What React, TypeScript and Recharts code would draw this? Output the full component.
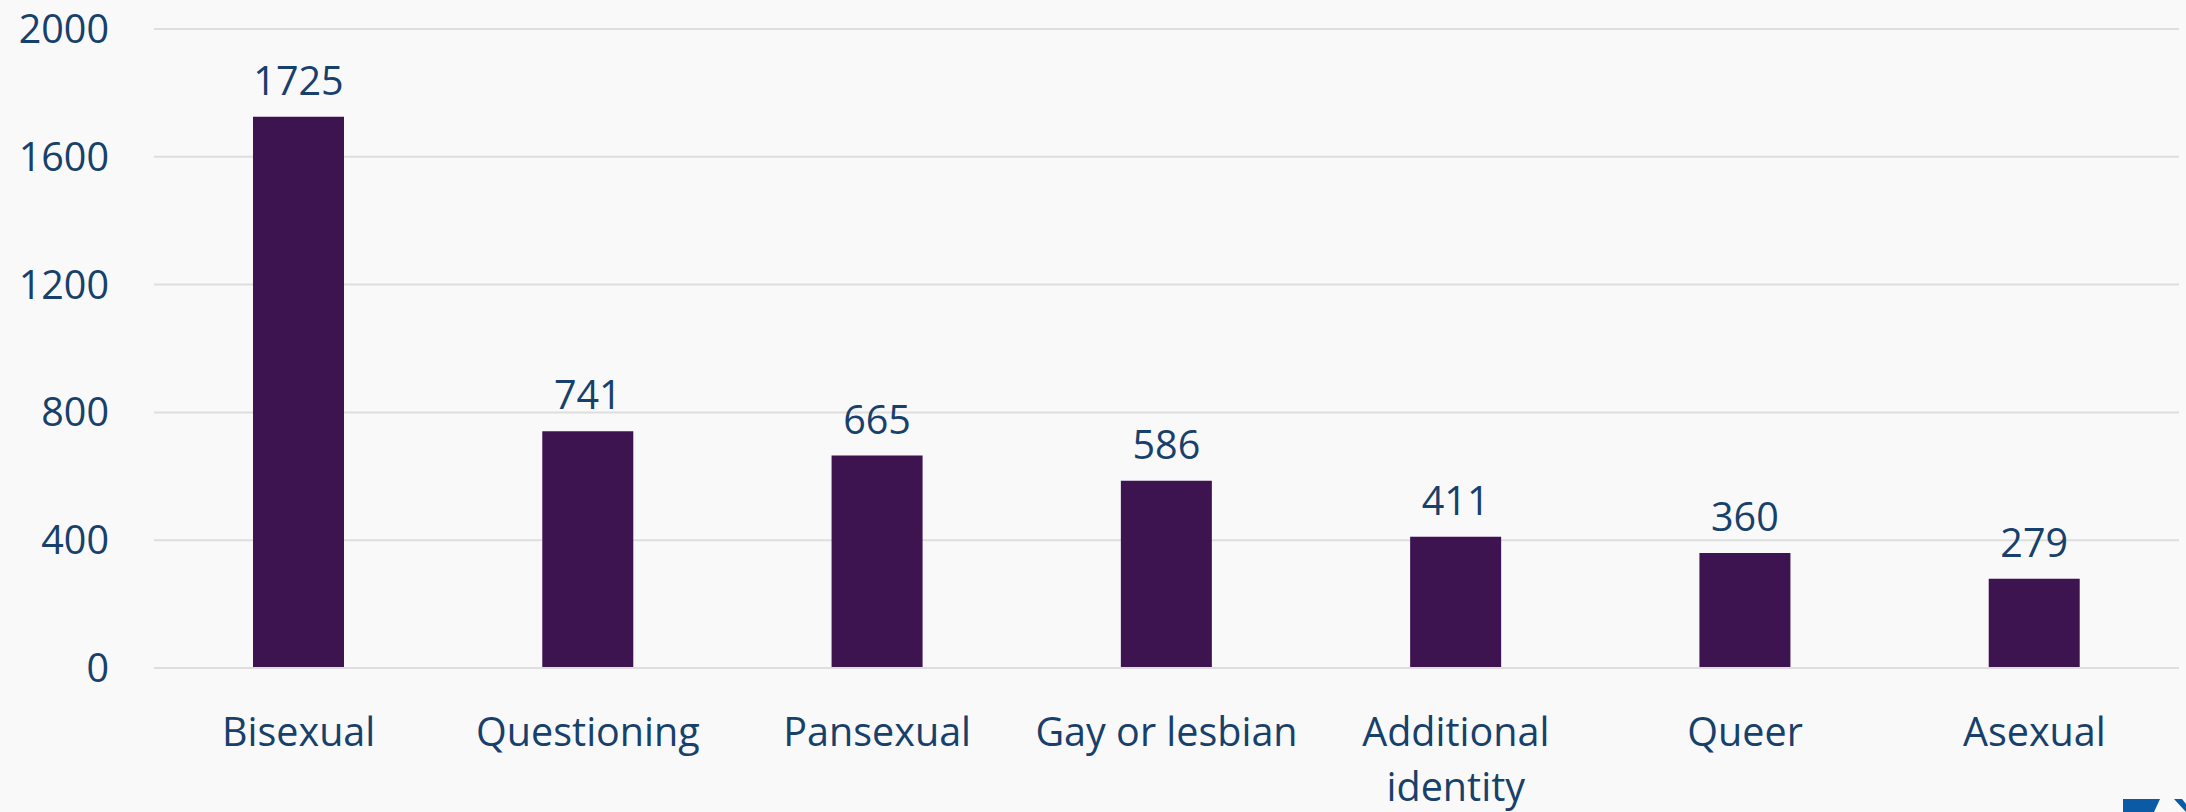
import React from "react";
import { BarChart, Bar, XAxis, YAxis, CartesianGrid, LabelList } from "recharts";

const categories = ["Bisexual", "Questioning", "Pansexual", "Gay or lesbian", "Additional identity", "Queer", "Asexual"];
const tickLines = [["Bisexual"], ["Questioning"], ["Pansexual"], ["Gay or lesbian"], ["Additional", "identity"], ["Queer"], ["Asexual"]];
const counts = [1725, 741, 665, 586, 411, 360, 279];
const yTicks = [0, 400, 800, 1200, 1600, 2000];

const data = categories.map((name, i) => ({ name, value: counts[i] }));

const FONT = "'Open Sans', 'Noto Sans', sans-serif";
const TEXT_COLOR = "#17406B";
const FS = 39.5;

const XTick = (props: any) => {
  const { x, y, payload } = props;
  const idx = categories.indexOf(payload.value);
  const lines = idx >= 0 ? tickLines[idx] : [payload.value];
  return (
    <text
      x={x}
      y={y}
      textAnchor="middle"
      fill={TEXT_COLOR}
      fontSize={FS}
      fontFamily={FONT}
    >
      {lines.map((l: string, i: number) => (
        <tspan key={i} x={x} dy={i === 0 ? "0.71em" : 55}>
          {l}
        </tspan>
      ))}
    </text>
  );
};

export default function App() {
  return (
    <div style={{ position: "absolute", left: 0, top: 0, width: 2186, height: 812, background: "#F9F9FA", overflow: "hidden" }}>
      <BarChart
        width={2186}
        height={812}
        data={data}
        margin={{ top: 29, right: 7, bottom: 0, left: 0 }}
      >
        <CartesianGrid vertical={false} stroke="#DEDEDE" strokeWidth={2} />
        <XAxis
          dataKey="name"
          height={144}
          axisLine={{ stroke: "#DEDEDE", strokeWidth: 2 }}
          tickLine={false}
          tickSize={0}
          tickMargin={50}
          interval={0}
          tick={<XTick />}
        />
        <YAxis
          width={154}
          domain={[0, 2000]}
          ticks={yTicks}
          axisLine={false}
          tickLine={false}
          tickSize={0}
          tickMargin={45}
          tick={{ fill: TEXT_COLOR, fontSize: FS, fontFamily: FONT }}
        />
        <Bar dataKey="value" fill="#3D1350" barSize={91} isAnimationActive={false}>
          <LabelList
            dataKey="value"
            position="top"
            offset={22}
            fill={TEXT_COLOR}
            fontSize={FS}
            fontFamily={FONT}
          />
        </Bar>
      </BarChart>
      <svg style={{ position: "absolute", left: 2110, top: 790 }} width={76} height={22}>
        <polygon points="13,9 50,9 44,22 13,22" fill="#0B5AA5" />
        <polygon points="64,9 72,9 76,14 76,22" fill="#0B5AA5" />
      </svg>
    </div>
  );
}
